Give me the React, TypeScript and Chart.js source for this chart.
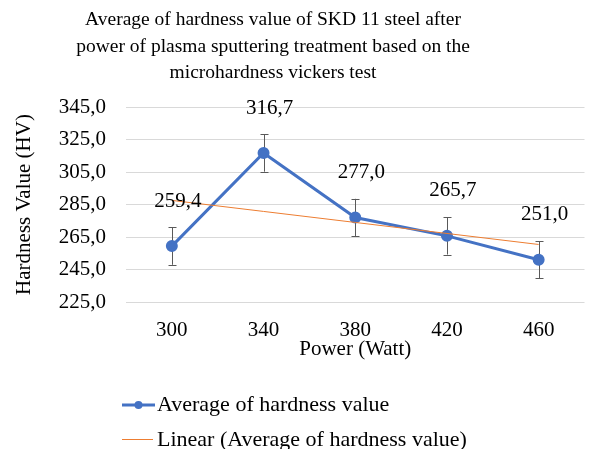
import React, { useEffect, useRef } from 'react';
import { Chart, registerables } from 'chart.js';

Chart.register(...registerables);

const titleLines = [
  'Average of hardness value of SKD 11 steel after',
  'power of plasma sputtering treatment based on the',
  'microhardness vickers test',
];
const categories = ['300', '340', '380', '420', '460'];
const hardness = [259.4, 316.7, 277.0, 265.7, 251.0];
const errors = [11.5, 11.5, 11.5, 11.5, 11.5];
const yMin = 225;
const yMax = 345;
const yStep = 20;
const seriesName = 'Average of hardness value';
const trendName = 'Linear (Average of hardness value)';
const xTitle = 'Power (Watt)';
const yTitle = 'Hardness Value (HV)';

const FONT = "'Liberation Serif', 'Times New Roman', serif";
const FS = 21;
const TFS = 19.5;
const LFS = 22;
const BLUE = '#4472C4';
const ORANGE = '#ED7D31';

function linearTrend(vals: number[]): number[] {
  const n = vals.length;
  const xs = vals.map((_, i) => i + 1);
  const mx = xs.reduce((a, b) => a + b, 0) / n;
  const my = vals.reduce((a, b) => a + b, 0) / n;
  let sxy = 0;
  let sxx = 0;
  for (let i = 0; i < n; i++) {
    sxy += (xs[i] - mx) * (vals[i] - my);
    sxx += (xs[i] - mx) * (xs[i] - mx);
  }
  const b = sxy / sxx;
  const a = my - b * mx;
  return xs.map((x) => a + b * x);
}

const fmt = (v: number) => v.toFixed(1).replace('.', ',');

const decorPlugin = {
  id: 'decor',
  beforeDatasetsDraw(chart: any) {
    const ctx = chart.ctx;
    const ys = chart.scales.y;
    const meta = chart.getDatasetMeta(1);
    ctx.save();
    ctx.strokeStyle = '#595959';
    ctx.lineWidth = 1;
    meta.data.forEach((pt: any, i: number) => {
      const x = Math.round(pt.x) + 0.5;
      const y1 = ys.getPixelForValue(hardness[i] + errors[i]);
      const y2 = ys.getPixelForValue(hardness[i] - errors[i]);
      ctx.beginPath();
      ctx.moveTo(x, y1);
      ctx.lineTo(x, y2);
      ctx.moveTo(x - 4, Math.round(y1) + 0.5);
      ctx.lineTo(x + 4, Math.round(y1) + 0.5);
      ctx.moveTo(x - 4, Math.round(y2) + 0.5);
      ctx.lineTo(x + 4, Math.round(y2) + 0.5);
      ctx.stroke();
    });
    ctx.restore();
  },
  afterDraw(chart: any) {
    const ctx = chart.ctx;
    ctx.save();
    ctx.fillStyle = '#000';
    ctx.font = `${TFS}px ${FONT}`;
    ctx.textAlign = 'center';
    ctx.textBaseline = 'middle';
    titleLines.forEach((t, i) => ctx.fillText(t, 273, 20 + i * 26.5));

    ctx.font = `${FS}px ${FONT}`;
    const meta = chart.getDatasetMeta(1);
    meta.data.forEach((pt: any, i: number) => {
      ctx.fillText(fmt(hardness[i]), pt.x + 6, pt.y - 45);
    });

    // legend
    ctx.font = `${LFS}px ${FONT}`;
    ctx.textAlign = 'left';
    const lx0 = 122;
    const lx1 = 155;
    const r1 = 405;
    const r2 = 440;
    ctx.strokeStyle = BLUE;
    ctx.lineWidth = 3;
    ctx.beginPath();
    ctx.moveTo(lx0, r1);
    ctx.lineTo(lx1, r1);
    ctx.stroke();
    ctx.fillStyle = BLUE;
    ctx.beginPath();
    ctx.arc((lx0 + lx1) / 2, r1, 4, 0, Math.PI * 2);
    ctx.fill();
    ctx.strokeStyle = ORANGE;
    ctx.lineWidth = 1;
    ctx.beginPath();
    ctx.moveTo(lx0, r2 - 0.5);
    ctx.lineTo(lx1 - 2, r2 - 0.5);
    ctx.stroke();
    ctx.fillStyle = '#000';
    ctx.fillText(seriesName, 157, r1);
    ctx.fillText(trendName, 157, r2);
    ctx.restore();
  },
};

export default function App() {
  const ref = useRef<HTMLCanvasElement | null>(null);
  useEffect(() => {
    if (!ref.current) return;
    const trend = linearTrend(hardness);
    const chart = new Chart(ref.current, {
      type: 'line',
      data: {
        labels: categories,
        datasets: [
          {
            label: trendName,
            data: trend,
            borderColor: ORANGE,
            borderWidth: 1,
            pointRadius: 0,
            fill: false,
            order: 0,
          },
          {
            label: seriesName,
            data: hardness,
            borderColor: BLUE,
            backgroundColor: BLUE,
            borderWidth: 3,
            pointRadius: 4.5,
            pointBackgroundColor: BLUE,
            pointBorderColor: BLUE,
            fill: false,
            order: 1,
          },
        ],
      },
      options: {
        animation: false,
        responsive: false,
        maintainAspectRatio: false,
        layout: { padding: { top: 107, bottom: 87, left: 0, right: 0 } },
        plugins: {
          legend: { display: false },
          title: { display: false },
          tooltip: { enabled: false },
        },
        scales: {
          x: {
            offset: true,
            grid: { display: false },
            border: { display: false },
            ticks: { color: '#000', font: { family: FONT, size: FS }, padding: 8 },
            title: {
              display: true,
              text: xTitle,
              color: '#000',
              font: { family: FONT, size: FS },
              padding: { top: 0, bottom: 0 },
            },
            afterFit: (s: any) => {
              s.height = 60;
            },
          },
          y: {
            min: yMin,
            max: yMax,
            grid: { color: '#D9D9D9', lineWidth: 1, drawTicks: false },
            border: { display: false },
            ticks: {
              stepSize: yStep,
              color: '#000',
              font: { family: FONT, size: FS },
              padding: 20,
              callback: (v: any) => fmt(Number(v)),
            },
            title: {
              display: true,
              text: yTitle,
              color: '#000',
              font: { family: FONT, size: FS },
              padding: { top: 12, bottom: 0 },
            },
            afterFit: (s: any) => {
              s.width = 126;
            },
          },
        },
      },
      plugins: [decorPlugin],
    });
    return () => chart.destroy();
  }, []);
  return (
    <div style={{ position: 'absolute', left: 0, top: 0, width: 592, height: 449, background: '#fff' }}>
      <canvas ref={ref} width={592} height={449} style={{ width: 592, height: 449 }} />
    </div>
  );
}
